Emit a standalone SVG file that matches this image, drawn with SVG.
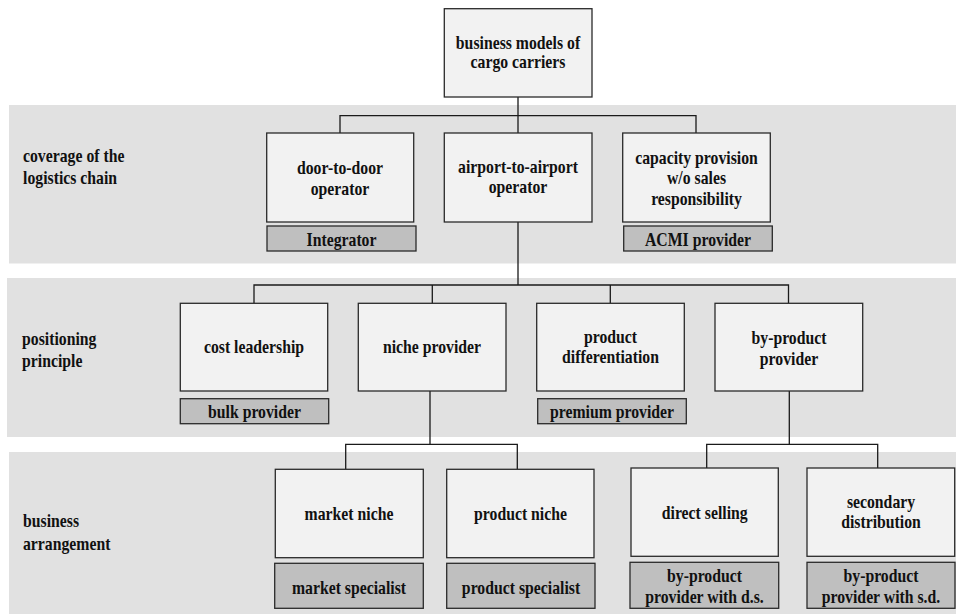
<svg xmlns="http://www.w3.org/2000/svg" width="956" height="614" viewBox="0 0 956 614">
<style>
.band{fill:#e1e1e1}
.box{fill:#f2f2f2;stroke:#2a2a2a;stroke-width:1.3}
.lab{fill:#bfbfbf;stroke:#2a2a2a;stroke-width:1.3}
.con{fill:none;stroke:#1a1a1a;stroke-width:1.3}
text{font-family:"Liberation Serif","Times New Roman",serif;font-weight:bold;font-size:19px;fill:#111}
.c{text-anchor:middle}
</style>
<rect width="956" height="614" fill="#ffffff"/>
<g id="bands">
<rect class="band" x="9" y="105" width="947" height="158.5"/>
<rect class="band" x="7" y="278" width="949" height="159"/>
<rect class="band" x="9" y="452" width="947" height="162"/>
</g>
<g id="row-labels">
<text transform="translate(23,162) scale(0.83,1)"><tspan x="0" y="0">coverage of the</tspan><tspan x="0" y="22">logistics chain</tspan></text>
<text transform="translate(22,345) scale(0.83,1)"><tspan x="0" y="0">positioning</tspan><tspan x="0" y="22">principle</tspan></text>
<text transform="translate(23,527) scale(0.83,1)"><tspan x="0" y="0">business</tspan><tspan x="0" y="23">arrangement</tspan></text>
</g>
<g id="connectors">
<path class="con" d="M518,97 V133 M340,133 V115.7 H696 V133"/>
<path class="con" d="M518,222 V285 M254,303 V285 H788.5 V303 M432.3,285 V303 M610.3,285 V303"/>
<path class="con" d="M430,391 V444.3 M345.7,469 V444.3 H517.3 V469"/>
<path class="con" d="M789.3,391 V444.3 M706.7,468 V444.3 H877.7 V468"/>
</g>
<g id="n-root"><rect class="box" x="444.3" y="8.7" width="147.7" height="88.3"/>
<text class="c" transform="translate(518,48.5) scale(0.83,1)"><tspan x="0" y="0">business models of</tspan><tspan x="0" y="20">cargo carriers</tspan></text></g>
<g id="n-door"><rect class="box" x="266.7" y="133" width="147" height="89"/>
<text class="c" transform="translate(340,174) scale(0.83,1)"><tspan x="0" y="0">door-to-door</tspan><tspan x="0" y="21">operator</tspan></text></g>
<g id="n-integrator"><rect class="lab" x="267" y="226" width="149" height="25"/>
<text class="c" transform="translate(341.5,245.5) scale(0.83,1)">Integrator</text></g>
<g id="n-airport"><rect class="box" x="444.3" y="133" width="147.7" height="89"/>
<text class="c" transform="translate(518,173) scale(0.83,1)"><tspan x="0" y="0">airport-to-airport</tspan><tspan x="0" y="20">operator</tspan></text></g>
<g id="n-capacity"><rect class="box" x="622.7" y="133" width="147.6" height="89"/>
<text class="c" transform="translate(696.5,164) scale(0.83,1)"><tspan x="0" y="0">capacity provision</tspan><tspan x="0" y="20.5">w/o sales</tspan><tspan x="0" y="41">responsibility</tspan></text></g>
<g id="n-acmi"><rect class="lab" x="623.7" y="226" width="148.6" height="25"/>
<text class="c" transform="translate(698,245.5) scale(0.83,1)">ACMI provider</text></g>
<g id="n-cost"><rect class="box" x="180.3" y="303.3" width="147.4" height="87.7"/>
<text class="c" transform="translate(254,352.7) scale(0.83,1)">cost leadership</text></g>
<g id="n-bulk"><rect class="lab" x="180.3" y="398.7" width="148.4" height="25"/>
<text class="c" transform="translate(254.5,417.5) scale(0.83,1)">bulk provider</text></g>
<g id="n-niche"><rect class="box" x="358.3" y="303.3" width="147.7" height="87.7"/>
<text class="c" transform="translate(432,352.7) scale(0.83,1)">niche provider</text></g>
<g id="n-proddiff"><rect class="box" x="536.7" y="303.3" width="147.6" height="87.7"/>
<text class="c" transform="translate(610.5,342.5) scale(0.83,1)"><tspan x="0" y="0">product</tspan><tspan x="0" y="20.5">differentiation</tspan></text></g>
<g id="n-premium"><rect class="lab" x="537.7" y="398.7" width="148.6" height="25"/>
<text class="c" transform="translate(612,417.5) scale(0.83,1)">premium provider</text></g>
<g id="n-byprod"><rect class="box" x="715" y="303.3" width="147.7" height="87.7"/>
<text class="c" transform="translate(789,344) scale(0.83,1)"><tspan x="0" y="0">by-product</tspan><tspan x="0" y="21">provider</tspan></text></g>
<g id="n-market"><rect class="box" x="275.3" y="469.3" width="148" height="88.4"/>
<text class="c" transform="translate(349,520) scale(0.83,1)">market niche</text></g>
<g id="n-marketspec"><rect class="lab" x="274.7" y="563.3" width="148.6" height="45"/>
<text class="c" transform="translate(349,593.5) scale(0.83,1)">market specialist</text></g>
<g id="n-product"><rect class="box" x="446.7" y="469.3" width="147.3" height="88.4"/>
<text class="c" transform="translate(520.5,520) scale(0.83,1)">product niche</text></g>
<g id="n-prodspec"><rect class="lab" x="446.7" y="563.3" width="148.3" height="45"/>
<text class="c" transform="translate(521,593.5) scale(0.83,1)">product specialist</text></g>
<g id="n-direct"><rect class="box" x="631" y="468" width="147.3" height="88.3"/>
<text class="c" transform="translate(704.7,518.5) scale(0.83,1)">direct selling</text></g>
<g id="n-ds"><rect class="lab" x="630" y="562.3" width="148.7" height="46"/>
<text class="c" transform="translate(704.5,582) scale(0.83,1)"><tspan x="0" y="0">by-product</tspan><tspan x="0" y="21.5">provider with d.s.</tspan></text></g>
<g id="n-secondary"><rect class="box" x="807" y="468" width="147.7" height="88.3"/>
<text class="c" transform="translate(881,507.5) scale(0.83,1)"><tspan x="0" y="0">secondary</tspan><tspan x="0" y="20.5">distribution</tspan></text></g>
<g id="n-sd"><rect class="lab" x="807" y="562.3" width="148" height="46"/>
<text class="c" transform="translate(881,582) scale(0.83,1)"><tspan x="0" y="0">by-product</tspan><tspan x="0" y="21.5">provider with s.d.</tspan></text></g>
</svg>
